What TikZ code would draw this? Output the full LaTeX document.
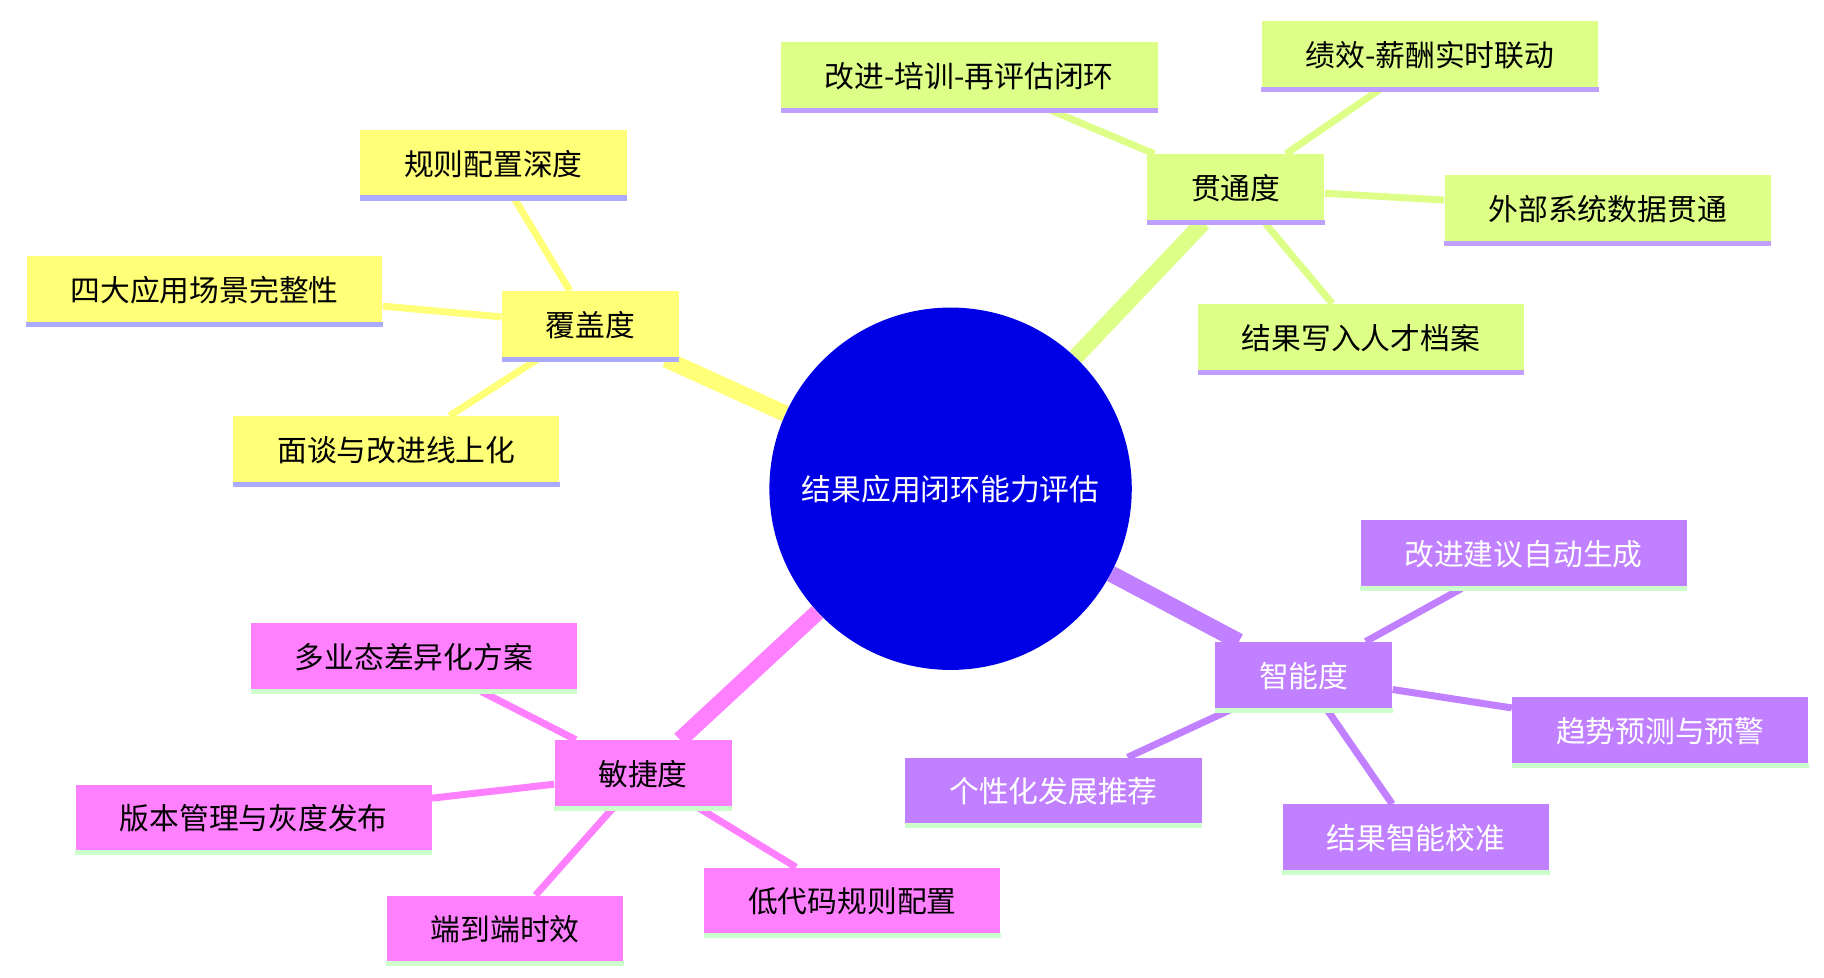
\documentclass[tikz,border=0pt]{standalone}
\usepackage{fontspec}
\setmainfont{Noto Sans CJK SC}
\usetikzlibrary{backgrounds}
\definecolor{centreblue}{RGB}{0,0,230}
\definecolor{covfill}{RGB}{255,255,120}
\definecolor{linkfill}{RGB}{221,255,136}
\definecolor{smartfill}{RGB}{192,128,255}
\definecolor{agilefill}{RGB}{255,128,255}
\definecolor{lavline}{RGB}{170,170,255}
\definecolor{violine}{RGB}{192,160,255}
\definecolor{mintline}{RGB}{204,255,204}
\tikzset{
  leaf/.style 2 args={fill=#1, inner xsep=0.75cm, minimum height=1.16cm, font=\fontsize{14.5}{16}\selectfont,
    append after command={(\tikzlastnode.south west) edge[draw=#2, line width=2.5pt] (\tikzlastnode.south east)}},
  trunk/.style={line width=8pt},
  twig/.style={line width=3.4pt}
}
\begin{document}
\begin{tikzpicture}[x=0.02cm,y=-0.02cm]
\useasboundingbox (0,0) rectangle (1560,836);
\node (root) at (813,418) [circle, fill=centreblue, minimum size=6.2cm, text=white, font=\fontsize{14.5}{16}\selectfont] {结果应用闭环能力评估};

% coverage
\node (cov) at (505,278) [leaf={covfill}{lavline}] {覆盖度};
\node (covrule) at (422,140) [leaf={covfill}{lavline}] {规则配置深度};
\node (covscene) at (175,248) [leaf={covfill}{lavline}] {四大应用场景完整性};
\node (covtalk) at (339,385) [leaf={covfill}{lavline}] {面谈与改进线上化};

% linkage
\node (link) at (1057,161) [leaf={linkfill}{violine}] {贯通度};
\node (linkloop) at (829,65) [leaf={linkfill}{violine}] {改进-培训-再评估闭环};
\node (linkpay) at (1223,47) [leaf={linkfill}{violine}] {绩效-薪酬实时联动};
\node (linkext) at (1375,179) [leaf={linkfill}{violine}] {外部系统数据贯通};
\node (linkfile) at (1164,289) [leaf={linkfill}{violine}] {结果写入人才档案};

% smart
\node (smart) at (1115,578) [leaf={smartfill}{mintline}, text=white] {智能度};
\node (smartadv) at (1303,474) [leaf={smartfill}{mintline}, text=white] {改进建议自动生成};
\node (smarttrend) at (1420,625) [leaf={smartfill}{mintline}, text=white] {趋势预测与预警};
\node (smartcal) at (1211,717) [leaf={smartfill}{mintline}, text=white] {结果智能校准};
\node (smartrec) at (901,677) [leaf={smartfill}{mintline}, text=white] {个性化发展推荐};

% agility
\node (agile) at (550,662) [leaf={agilefill}{mintline}] {敏捷度};
\node (agilemulti) at (354,562) [leaf={agilefill}{mintline}] {多业态差异化方案};
\node (agilever) at (217,700) [leaf={agilefill}{mintline}] {版本管理与灰度发布};
\node (agileend) at (432,795) [leaf={agilefill}{mintline}] {端到端时效};
\node (agilecode) at (729,771) [leaf={agilefill}{mintline}] {低代码规则配置};

\begin{scope}[on background layer]
\draw[trunk, covfill] (root) -- (cov);
\draw[trunk, linkfill] (root) -- (link);
\draw[trunk, smartfill] (root) -- (smart);
\draw[trunk, agilefill] (root) -- (agile);
\foreach \leafname in {covrule,covscene,covtalk} \draw[twig, covfill] (cov) -- (\leafname);
\foreach \leafname in {linkloop,linkpay,linkext,linkfile} \draw[twig, linkfill] (link) -- (\leafname);
\foreach \leafname in {smartadv,smarttrend,smartcal,smartrec} \draw[twig, smartfill] (smart) -- (\leafname);
\foreach \leafname in {agilemulti,agilever,agileend,agilecode} \draw[twig, agilefill] (agile) -- (\leafname);
\end{scope}
\end{tikzpicture}
\end{document}
